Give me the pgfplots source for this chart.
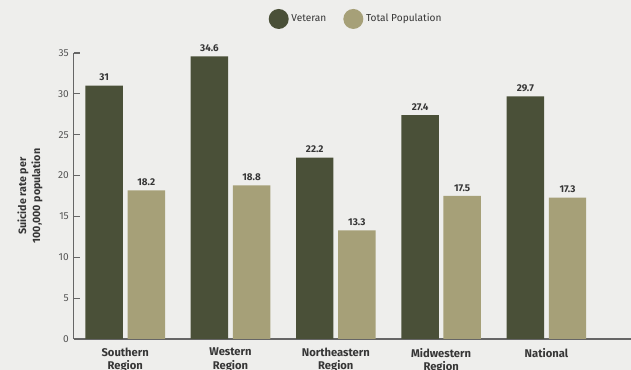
\documentclass[border=0pt]{standalone}
\usepackage{pgfplots}
\pgfplotsset{compat=1.18}
\usepackage{fontspec}
\setmainfont{Fira Sans}
\definecolor{vet}{HTML}{4A5038}
\definecolor{tot}{HTML}{A6A078}
\definecolor{bg}{HTML}{EEEEEC}
\definecolor{txt}{HTML}{363636}
\definecolor{ticktxt}{HTML}{555555}
\definecolor{axisgrey}{HTML}{666666}
\begin{document}
\begin{tikzpicture}
\fill[bg] (0pt,0pt) rectangle (473.25pt,277.5pt);
\clip (0pt,0pt) rectangle (473.25pt,277.5pt);
\begin{axis}[
  at={(55.125pt,23.25pt)}, anchor=south west,
  scale only axis, width=418.125pt, height=214.5pt,
  ybar, bar width=28.1pt,
  xmin=-0.491, xmax=4.803, ymin=0, ymax=35,
  axis x line=bottom, axis y line=left,
  axis line style={-, draw=axisgrey, line width=1.1pt},
  xtick={0,1,2,3,4},
  xticklabels={{Southern\\Region},{Western\\Region},{Northeastern\\Region},{Midwestern\\Region},{National}},
  xticklabel style={align=center, yshift=-3.2pt, font=\bfseries\fontsize{8.4}{10}\selectfont, text=txt},
  major x tick style={draw=none},
  ytick={0,5,...,35},
  tick align=inside, major tick length=4.5pt,
  ytick style={draw=axisgrey, line width=0.8pt},
  yticklabel style={font=\fontsize{7.6}{9}\selectfont, text=ticktxt},
  /pgf/number format/assume math mode=true,
  ylabel={Suicide rate per\\100,000 population},
  ylabel style={at={(axis description cs:-0.078,0.5)}, anchor=center, align=center, font=\bfseries\fontsize{8}{10.5}\selectfont, text=txt},
  nodes near coords,
  nodes near coords style={font=\bfseries\fontsize{7.4}{9}\selectfont, text=txt},
  point meta=explicit symbolic,
  legend style={at={(rel axis cs:0.5075,1.119)}, anchor=center, draw=none, fill=none, legend columns=2,
    font=\fontsize{7.6}{9}\selectfont, text=txt,
    /tikz/every even column/.append style={column sep=10.75pt}},
]
\addplot[fill=vet, draw=none, bar shift=-15.8pt,
  legend image code/.code={\fill[vet] (0pt,0pt) circle (7.5pt);}]
  coordinates {(0,31)[31] (1,34.6)[34.6] (2,22.2)[22.2] (3,27.4)[27.4] (4,29.7)[29.7]};
\addlegendentry{Veteran}
\addplot[fill=tot, draw=none, bar shift=15.8pt,
  legend image code/.code={\fill[tot] (0pt,0pt) circle (7.5pt);}]
  coordinates {(0,18.2)[18.2] (1,18.8)[18.8] (2,13.3)[13.3] (3,17.5)[17.5] (4,17.3)[17.3]};
\addlegendentry{Total Population}
\end{axis}
\end{tikzpicture}
\end{document}
